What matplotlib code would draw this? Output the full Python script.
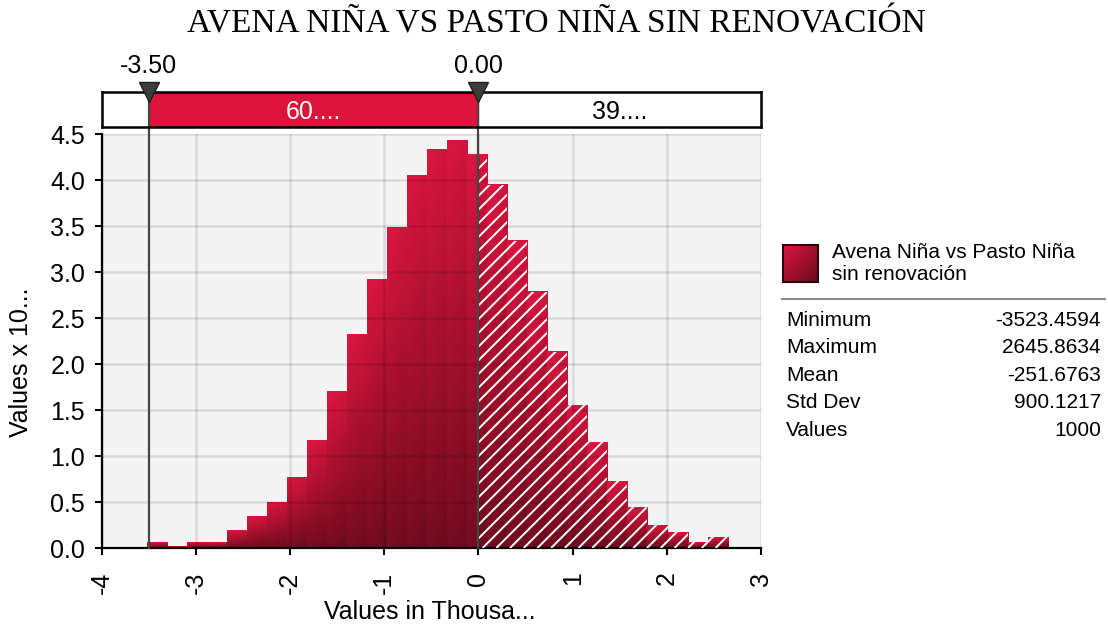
import numpy as np
import matplotlib
matplotlib.use("Agg")
import matplotlib.pyplot as plt
from matplotlib.colors import LinearSegmentedColormap
from matplotlib.patches import Rectangle, PathPatch
from matplotlib.path import Path
from matplotlib.collections import LineCollection

plt.rcParams['font.family'] = ['Liberation Sans', 'DejaVu Sans']
plt.rcParams['axes.unicode_minus'] = False

# ---- data ----
title = 'AVENA NIÑA VS PASTO NIÑA SIN RENOVACIÓN'
series_name = 'Avena Niña vs Pasto Niña\nsin renovación'
stat_names = ['Minimum', 'Maximum', 'Mean', 'Std Dev', 'Values']
stat_values = ['-3523.4594', '2645.8634', '-251.6763', '900.1217', '1000']
stat_min = -3523.4594
stat_max = 2645.8634
# bar heights (Values x 10^-4), 29 bins from min to max
density = [0.059, 0.019, 0.059, 0.059, 0.193, 0.345, 0.498, 0.770, 1.173,
           1.707, 2.317, 2.916, 3.490, 4.047, 4.330, 4.430, 4.280, 3.950,
           3.340, 2.790, 2.135, 1.551, 1.151, 0.727, 0.443, 0.247, 0.171,
           0.062, 0.115]
markers = [-3.5, 0.0]
marker_labels = ['-3.50', '0.00']
band_labels = ['60....', '39....']
xticks = [-4, -3, -2, -1, 0, 1, 2, 3]
yticks = [0.0, 0.5, 1.0, 1.5, 2.0, 2.5, 3.0, 3.5, 4.0, 4.5]

W, H = 1108, 629
fig = plt.figure(figsize=(W / 100, H / 100), dpi=100)


def px(x0, y0, x1, y1):
    return [x0 / W, 1 - y1 / H, (x1 - x0) / W, (y1 - y0) / H]


cmap = LinearSegmentedColormap.from_list('crim', ['#6a0a1f', '#a3102c', '#dc1640'])

# ---- main histogram ----
ax = fig.add_axes(px(101.7, 134.3, 761, 548))
ax.set_facecolor('#f4f4f4')

edges = np.linspace(stat_min, stat_max, len(density) + 1) / 1000
vv = np.linspace(0, 1, 64)[:, None]
uu = np.linspace(0, 1, 16)[None, :]
grad = 0.88 * vv + 0.12 * (1 - uu)
for x0, x1, h in zip(edges[:-1], edges[1:], density):
    ax.imshow(grad, cmap=cmap, vmin=0, vmax=1, origin='lower',
              extent=(x0, x1, 0, h), aspect='auto', zorder=2,
              interpolation='bilinear')

# hatch the part right of the upper marker
split = markers[1]
verts, codes = [], []
for x0, x1, h in zip(edges[:-1], edges[1:], density):
    if x1 <= split:
        continue
    a = max(x0, split)
    verts += [(a, 0), (x1, 0), (x1, h), (a, h), (a, 0)]
    codes += [Path.MOVETO, Path.LINETO, Path.LINETO, Path.LINETO, Path.CLOSEPOLY]
clip = PathPatch(Path(verts, codes), facecolor='none', edgecolor='none')
ax.add_patch(clip)
aw, ah = 659.3, 413.7
offs = np.arange(-ah / aw, 1, 13.7 / aw)
segs = [[(o, 0), (o + ah / aw, 1)] for o in offs]
lc = LineCollection(segs, colors='white', linewidths=1.4,
                    transform=ax.transAxes, zorder=3)
lc.set_clip_path(clip)
ax.add_collection(lc, autolim=False)

for m in markers:
    ax.axvline(m, ymin=0, ymax=1.1, clip_on=False, color='#454545', lw=1.6, zorder=5)

ax.set_xlim(-4, 3)
ax.set_ylim(0, 4.5)
ax.set_xticks(xticks)
ax.set_yticks(yticks)
ax.set_yticklabels(['%.1f' % t for t in yticks])
ax.set_axisbelow(False)
ax.grid(True, color='black', alpha=0.1, lw=1.8)
for s in ['top', 'right']:
    ax.spines[s].set_visible(False)
for s in ['left', 'bottom']:
    ax.spines[s].set_linewidth(1.6)
ax.tick_params(axis='both', labelsize=18, width=1.5, length=5)
ax.tick_params(axis='x', rotation=90, pad=12)
ax.tick_params(axis='y', pad=7)

# ---- marker band above the plot ----
bx = fig.add_axes(px(101.7, 92.3, 761, 127.3))
bx.set_xlim(-4, 3)
bx.set_ylim(0, 1)
bx.set_xticks([])
bx.set_yticks([])
for s in bx.spines.values():
    s.set_linewidth(1.8)
bx.axvspan(markers[0], markers[1], color='#dc143c')
bx.text((markers[0] + markers[1]) / 2, 0.45, band_labels[0], color='white',
        ha='center', va='center', fontsize=18)
bx.text((markers[1] + 3) / 2, 0.45, band_labels[1], color='black',
        ha='center', va='center', fontsize=18)
for m, lbl in zip(markers, marker_labels):
    bx.axvline(m, color='#454545', lw=1.6)
    bx.annotate(lbl, (m, 1), xytext=(0, 19), textcoords='offset points',
                ha='center', va='center', fontsize=18, annotation_clip=False)
bx.plot(markers, [1, 1], 'v', ms=15, color='#3c3c3c', mec='#1e1e1e',
        mew=1, clip_on=False, zorder=6)

# ---- overlay for title, labels, legend ----
ov = fig.add_axes([0, 0, 1, 1])
ov.axis('off')
ov.text(556, 24, title, family='Liberation Serif', fontsize=24,
        ha='center', va='center')
ov.text(21, 362, 'Values x 10...', rotation=90, ha='center', va='center', fontsize=18)
ov.text(430, 612, 'Values in Thousa...', ha='center', va='center', fontsize=18)

yy = np.linspace(0, 1, 32)[:, None]
xx = np.linspace(0, 1, 32)[None, :]
grad2 = 1 - 0.5 * (yy + xx)
ov.imshow(grad2, cmap=cmap, vmin=0, vmax=1, origin='upper',
          extent=(783, 818, 282, 245), aspect='auto', interpolation='bilinear')
ov.add_patch(Rectangle((783, 245), 35, 37, fill=False, ec='#2a0508', lw=1.5))
ov.text(832, 263, series_name, ha='left', va='center', fontsize=15, linespacing=1.2)
ov.plot([782, 1105], [299, 299], color='#8c8c8c', lw=1.5)
for i, (n, v) in enumerate(zip(stat_names, stat_values)):
    y = 320 + i * 27.6
    ov.text(786, y, n, ha='left', va='center', fontsize=15)
    ov.text(1101, y, v, ha='right', va='center', fontsize=15)
ov.set_xlim(0, W)
ov.set_ylim(H, 0)

fig.savefig('out.png', dpi=100)
